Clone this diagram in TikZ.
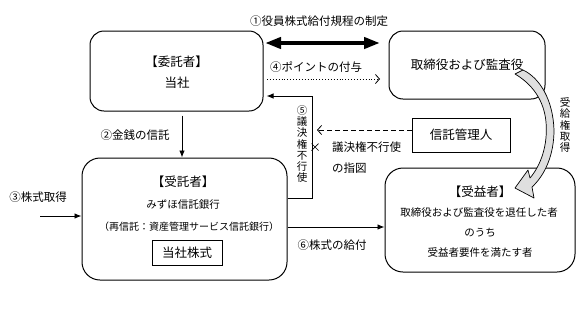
\documentclass[tikz,border=0pt]{standalone}
\usepackage{fontspec}
\setmainfont{Noto Sans CJK JP}
\usetikzlibrary{arrows.meta}
\begin{document}
\begin{tikzpicture}[x=1pt,y=-1pt,
  rbox/.style={draw,line width=1pt,rounded corners=14pt,inner sep=0pt},
  sbox/.style={draw,line width=1pt,inner sep=0pt},
  conn/.style={line width=0.9pt},
  farr/.style={conn,-{Latex[length=7pt,width=5.5pt]}},
  barb/.style={-{Straight Barb[length=4pt,width=9pt,line width=0.8pt]}},
  lbl/.style={inner sep=0pt,font=\fontsize{11.5}{13}\selectfont},
  big/.style={inner sep=0pt,font=\fontsize{12.5}{14}\selectfont},
  sml/.style={inner sep=0pt,font=\fontsize{10.5}{12}\selectfont},
  vert/.style={inner sep=0pt,align=center,font=\fontsize{10.5}{11.2}\selectfont},
]
\useasboundingbox (0,0) rectangle (586,314);
% boxes
\node[rbox,minimum width=173pt,minimum height=80pt] (itaku) at (176.5,71) {};
\node[rbox,minimum width=156pt,minimum height=68pt] (tori) at (467,65) {};
\node[rbox,rounded corners=18pt,minimum width=205pt,minimum height=122pt] (jutaku) at (184.5,219) {};
\node[rbox,rounded corners=18pt,minimum width=190pt,minimum height=104pt] (jueki) at (480,220) {};
\node[sbox,minimum width=98pt,minimum height=34pt,font=\fontsize{12.5}{14}\selectfont] (kanri) at (461,135) {信託管理人};
\node[sbox,minimum width=70pt,minimum height=25pt,font=\fontsize{12.5}{14}\selectfont] (kabu) at (187,252.5) {当社株式};
% box texts
\node[big] (t1) at (176.5,62) {【委託者】};
\node[big] (t2) at (177,83) {当社};
\node[big] (t3) at (467,65) {取締役および監査役};
\node[big] (t4) at (183,182) {【受託者】};
\node[sml] (t5) at (183,205) {みずほ信託銀行};
\node[inner sep=0pt,font=\fontsize{10}{12}\selectfont] (t6) at (189,227) {（再信託：資産管理サービス信託銀行）};
\node[big] (t7) at (480,192) {【受益者】};
\node[sml] (t8) at (479,213) {取締役および監査役を退任した者};
\node[sml] (t9) at (480,233) {のうち};
\node[sml] (t10) at (480,252) {受益者要件を満たす者};
% labels
\node[lbl] (l1) at (319,21) {①役員株式給付規程の制定};
\node[lbl] (l4) at (316,67) {④ポイントの付与};
\node[lbl] (l2) at (135,135) {②金銭の信託};
\node[lbl] (l3) at (38,197) {③株式取得};
\node[lbl] (l6) at (332,245) {⑥株式の給付};
\node[lbl,anchor=west] (l7) at (332,147) {議決権不行使};
\node[lbl,anchor=west] (l8) at (332,168) {の指図};
\node[vert] (l5) at (302,144) {⑤\\議\\決\\権\\不\\行\\使};
\node[vert] (l9) at (565,125) {受\\給\\権\\取\\得};
% coordinates
\coordinate (a1s) at (265,43);
\coordinate (a1e) at (380,43);
\coordinate (a4s) at (267,79);
\coordinate (a4e) at (380,79);
\coordinate (s3) at (40,216);
\coordinate (y5) at (0,198);
\coordinate (c5a) at (312,198);
\coordinate (c5b) at (312,96);
\coordinate (y5b) at (0,96);
\coordinate (y6) at (0,227);
\coordinate (dend) at (317,130);
\coordinate (xc) at (315,147);
% connectors
\draw[line width=4.5pt,{Triangle[length=16pt,width=11pt]}-{Triangle[length=16pt,width=11pt]}] (a1s) -- (a1e);
\draw[conn,dotted,barb] (a4s) -- (a4e);
\draw[farr] ([xshift=5.5pt,yshift=-4pt]itaku.south) -- ([xshift=5.5pt]itaku.south |- jutaku.north);
\draw[farr] (s3) -- (s3 -| jutaku.west);
\draw[farr] (jutaku.east |- y6) -- (jueki.west |- y6);
\draw[farr] (jutaku.east |- y5) -- (c5a) -- (c5b) -- ([xshift=3pt]itaku.east |- y5b);
\draw[conn,dashed,dash pattern=on 5pt off 3pt,barb] ([yshift=5pt]kanri.west) -- (dend);
\draw[line width=0.7pt] ([shift={(-3.5,-3.5)}]xc) -- ([shift={(3.5,3.5)}]xc) ([shift={(-3.5,3.5)}]xc) -- ([shift={(3.5,-3.5)}]xc);
% curved arrow
\draw[line width=0.7pt,fill=gray!25,line join=round]
  (515,74) -- (523,70)
  .. controls (540,78) and (553,100) .. (554,130)
  .. controls (554,155) and (545,175) .. (532,187)
  -- (534,198) -- (515,188) -- (528,170) -- (530,178)
  .. controls (541,165) and (548,145) .. (546,122)
  .. controls (544,100) and (532,84) .. cycle;
\end{tikzpicture}
\end{document}
